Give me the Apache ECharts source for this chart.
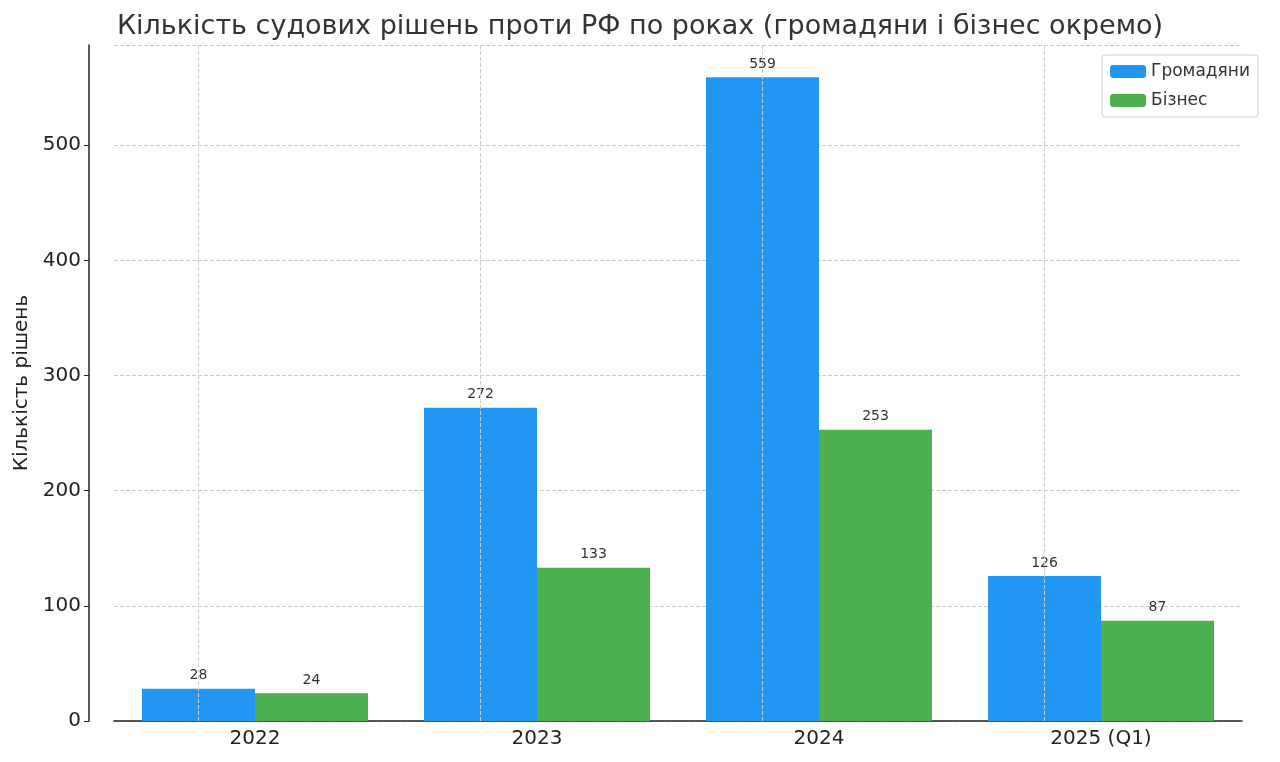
<!doctype html>
<html>
<head>
<meta charset="utf-8">
<script src="https://cdn.jsdelivr.net/npm/echarts@6/dist/echarts.min.js"></script>
<style>
* { margin:0; padding:0; }
#chart { width:1280px; height:762px; }
</style>
</head>
<body>
<div id="chart"></div>
<script>
var years = ['2022', '2023', '2024', '2025 (Q1)'];
var citizens = [28, 272, 559, 126];
var business = [24, 133, 253, 87];
var yTicks = [0, 100, 200, 300, 400, 500];

var font = 'DejaVu Sans';
var chart = echarts.init(document.getElementById('chart'));

// вертикальні лінії сітки по центрах категорій
var vLines = years.map(function (y) { return { xAxis: y }; });

var barLabel = { show: true, position: 'top', color: '#333', fontSize: 14, fontFamily: font, distance: 6 };

chart.setOption({
  animation: false,
  textStyle: { fontFamily: font },
  title: {
    text: 'Кількість судових рішень проти РФ по роках (громадяни і бізнес окремо)',
    left: 'center', top: 8,
    textStyle: { fontSize: 27, fontWeight: 'normal', color: '#333', fontFamily: font }
  },
  legend: {
    data: ['Громадяни', 'Бізнес'],
    orient: 'vertical', right: 22, top: 55,
    itemWidth: 36, itemHeight: 13, itemGap: 12,
    padding: [8, 8, 8, 8],
    borderColor: '#ccc', borderWidth: 1, borderRadius: 3,
    textStyle: { fontSize: 17, color: '#333' }
  },
  grid: { left: 114, right: 38, top: 45, bottom: 41 },
  xAxis: {
    type: 'category', data: years,
    axisLine: { lineStyle: { color: '#222', width: 1.5 } },
    axisTick: { show: false },
    axisLabel: { fontSize: 20, color: '#222', margin: 8 }
  },
  yAxis: {
    type: 'value', min: 0, max: 587, interval: 100, offset: 25,
    name: 'Кількість рішень', nameLocation: 'middle', nameGap: 50, nameRotate: 90,
    nameTextStyle: { fontSize: 20, color: '#222' },
    axisLine: { show: true, lineStyle: { color: '#222', width: 1.5 } },
    axisTick: { show: true, length: 5, lineStyle: { color: '#222' } },
    axisLabel: { fontSize: 20, color: '#222', showMaxLabel: false,
      formatter: function (v) { return yTicks.indexOf(v) >= 0 ? v : ''; } },
    splitLine: { show: true, lineStyle: { color: '#ccc', type: 'dashed' } }
  },
  series: [
    {
      name: 'Громадяни', type: 'bar', data: citizens,
      barWidth: 113, barGap: '0%',
      itemStyle: { color: '#2196F3' }, label: barLabel,
      markLine: { silent: true, symbol: 'none', label: { show: false },
        lineStyle: { color: '#ccc', type: 'dashed', width: 1 }, data: vLines }
    },
    {
      name: 'Бізнес', type: 'bar', data: business,
      barWidth: 113,
      itemStyle: { color: '#4CAF50' }, label: barLabel
    }
  ]
});
</script>
</body>
</html>
